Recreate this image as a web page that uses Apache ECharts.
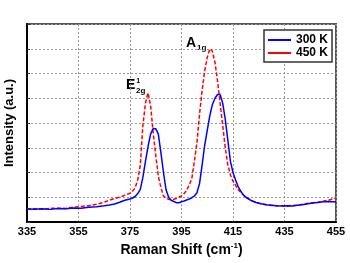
<!DOCTYPE html>
<html>
<head>
<meta charset="utf-8">
<script src="https://cdn.jsdelivr.net/npm/echarts@6/dist/echarts.min.js"></script>
<style>html,body{margin:0;padding:0;background:#fff;}#c{width:350px;height:263px;}</style>
</head>
<body>
<div id="c"></div>
<script>
const shifts = [335,338,341,344,347,350,353,356,359,362,365,367,369,371,373,375,376,377,378,379,380,381,382,383,384,385,386,387,388,389,390,391,392,393,394,395,396,397,398,399,400,401,402,403,404,405,406,407,408,409,410,411,412,413,414,415,416,417,418,419,420,422,424,426,428,430,432,434,436,438,440,442,444,446,448,450,452,454,455];
const blue300 = [0.53,0.52,0.54,0.51,0.55,0.54,0.57,0.56,0.60,0.62,0.66,0.69,0.73,0.80,0.88,0.93,0.97,1.03,1.15,1.32,1.80,2.45,3.05,3.55,3.78,3.77,3.55,2.80,2.00,1.30,1.00,0.88,0.83,0.78,0.78,0.82,0.85,0.89,0.93,0.98,1.05,1.18,1.55,2.30,3.10,3.70,4.30,4.75,5.00,5.15,5.15,4.80,4.15,3.30,2.45,2.00,1.70,1.43,1.25,1.10,1.00,0.87,0.79,0.74,0.70,0.68,0.66,0.65,0.66,0.65,0.68,0.70,0.74,0.77,0.79,0.82,0.83,0.82,0.81];
const red450 = [0.53,0.54,0.52,0.55,0.56,0.55,0.60,0.63,0.66,0.72,0.80,0.88,0.95,1.00,1.08,1.16,1.25,1.38,1.70,2.30,3.90,4.80,5.22,4.70,3.60,2.70,1.85,1.40,1.05,0.97,0.92,0.90,0.92,0.95,1.00,1.05,1.15,1.28,1.50,1.75,2.45,3.20,4.35,5.30,6.10,6.65,7.00,6.90,6.45,5.70,4.80,3.90,3.00,2.30,1.90,1.65,1.48,1.30,1.20,1.09,1.00,0.87,0.78,0.73,0.70,0.67,0.65,0.66,0.64,0.67,0.68,0.72,0.75,0.78,0.80,0.84,0.88,0.94,0.97];
const seriesNames = ['300 K','450 K'];
const xTicks = {min:335, max:455, step:20};

const chart = echarts.init(document.getElementById('c'), null, {renderer:'canvas'});
const F = 'Liberation Sans, Arial, sans-serif';
chart.setOption({
  animation:false,
  backgroundColor:'#fff',
  grid:{left:27,right:14,top:24,bottom:41,show:true,borderColor:'#555',borderWidth:2,backgroundColor:'transparent',outerBoundsMode:'none',containLabel:false},
  legend:{
    orient:'vertical', left:264, top:30, padding:[4,4,3,4], itemGap:1,
    icon:'rect', itemWidth:23, itemHeight:2, backgroundColor:'#fff', borderColor:'#333', borderWidth:1.5,
    borderRadius:0,
    textStyle:{fontFamily:F,fontWeight:'bold',fontSize:12,color:'#000',lineHeight:12},
    data:seriesNames
  },
  xAxis:{
    type:'value', min:xTicks.min, max:xTicks.max, interval:xTicks.step,
    name:'{a|Raman Shift (cm}{s|-1}{a|)}', nameLocation:'middle', nameGap:12,
    nameTextStyle:{rich:{a:{fontFamily:F,fontWeight:'bold',fontSize:14,color:'#000'},s:{fontFamily:F,fontWeight:'bold',fontSize:8,color:'#000',padding:[0,0,8,0]}}},
    axisLine:{show:true,onZero:false,lineStyle:{color:'#000',width:2}},
    axisTick:{show:false},
    axisLabel:{fontFamily:F,fontWeight:'bold',fontSize:11,color:'#000',margin:4},
    splitLine:{show:true,lineStyle:{color:'#999',type:[2,2],width:1}}
  },
  yAxis:{
    type:'value', min:0, max:8, interval:1,
    name:'Intensity (a.u.)', nameLocation:'middle', nameGap:11,
    nameTextStyle:{fontFamily:F,fontWeight:'bold',fontSize:13,color:'#000'},
    axisLine:{show:true,onZero:false,lineStyle:{color:'#000',width:2}},
    axisTick:{show:true,inside:true,length:3,lineStyle:{color:'#333'}},
    axisLabel:{show:false},
    splitLine:{show:true,lineStyle:{color:'#999',type:[2,2],width:1}}
  },
  graphic:[
    {type:'text', left:126, top:78, style:{
      text:'{e|E}{p|1}',
      rich:{e:{fontFamily:F,fontWeight:'bold',fontSize:14,fill:'#000'},p:{fontFamily:F,fontWeight:'bold',fontSize:7,fill:'#000',padding:[0,0,8,1]}}}},
    {type:'text', left:136, top:87, style:{text:'2g',font:'bold 8px '+F,fill:'#000'}},
    {type:'text', left:186, top:36, style:{text:'A',font:'bold 14px '+F,fill:'#000'}},
    {type:'text', left:197, top:44, style:{text:'1g',font:'bold 8px '+F,fill:'#000'}}
  ],
  series:[
    {name:seriesNames[0], type:'line', symbol:'none', data:shifts.map((x,i)=>[x,blue300[i]]),
     lineStyle:{color:'#0000ff',width:1.5}, itemStyle:{color:'#0000ff'}, z:3},
    {name:seriesNames[1], type:'line', symbol:'none', data:shifts.map((x,i)=>[x,red450[i]]),
     lineStyle:{color:'#ff0000',width:1.5,type:[4,2]}, itemStyle:{color:'#ff0000'}, z:2}
  ]
});
</script>
</body>
</html>
